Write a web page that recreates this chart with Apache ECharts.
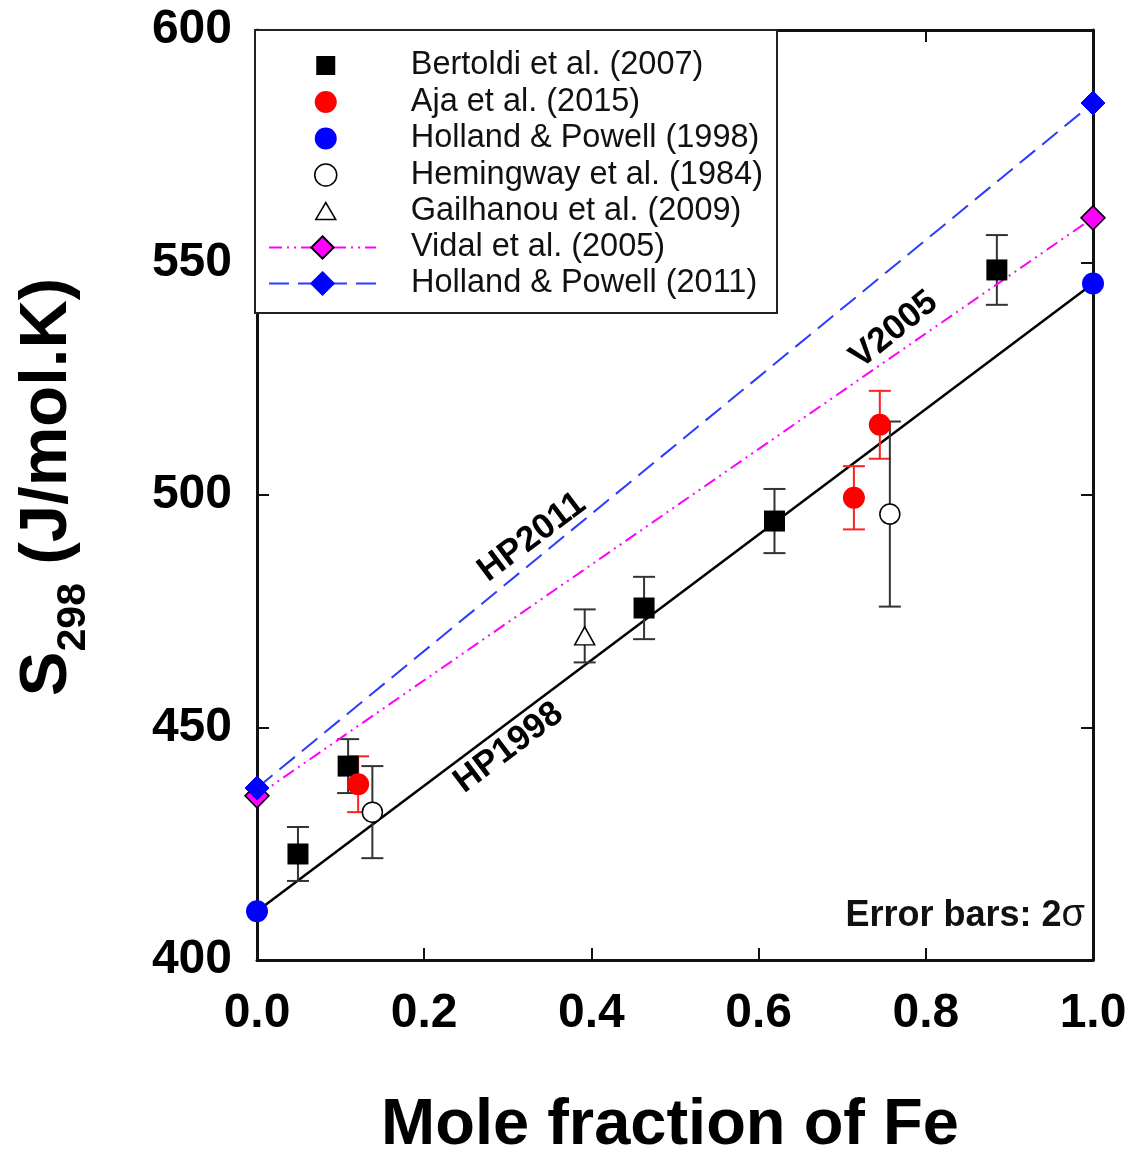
<!DOCTYPE html>
<html>
<head>
<meta charset="utf-8">
<script src="https://cdn.jsdelivr.net/npm/echarts@6.0.0/dist/echarts.min.js"></script>
<style>
  html, body { margin: 0; padding: 0; background: #fff; }
  #chart { width: 1126px; height: 1150px; }
</style>
</head>
<body>
<div id="chart"></div>
<script>
// Measured standard entropies (J/mol.K) versus Fe mole fraction, with 2-sigma uncertainties
const bertoldiX   = [0.049, 0.109, 0.463, 0.619, 0.885];
const bertoldiY   = [422.8, 441.7, 475.7, 494.4, 548.4];
const bertoldiErr = [5.8, 5.8, 6.7, 6.9, 7.5];

const ajaX   = [0.121, 0.714, 0.745];
const ajaY   = [437.8, 499.4, 515.1];
const ajaErr = [6.0, 6.8, 7.3];

const hemingwayX   = [0.138, 0.757];
const hemingwayY   = [431.8, 495.9];
const hemingwayErr = [9.9, 19.9];

const gailhanouX   = [0.392];
const gailhanouY   = [469.7];
const gailhanouErr = [5.7];

// End-member values of the thermodynamic databases (Mg end member at 0, Fe end member at 1)
const endMemberX = [0, 1];
const hp1998Y = [410.5, 545.5];
const vidalY  = [435.3, 559.6];
const hp2011Y = [437.0, 584.3];

// Tags written along the database lines
const curveTags  = ['HP2011', 'V2005', 'HP1998'];
const curveTagX  = [0.329, 0.762, 0.301];
const curveTagY  = [490.9, 535.5, 445.6];

const seriesNames = {
  bertoldi: 'Bertoldi et al. (2007)',
  aja: 'Aja et al. (2015)',
  hp1998: 'Holland & Powell (1998)',
  hemingway: 'Hemingway et al. (1984)',
  gailhanou: 'Gailhanou et al. (2009)',
  vidal: 'Vidal et al. (2005)',
  hp2011: 'Holland & Powell (2011)'
};

const FONT = "'Liberation Sans', Arial, Helvetica, sans-serif";

const pairs = (xs, ys) => xs.map((x, i) => [x, ys[i]]);

function errorBars(id, xs, ys, errs, color) {
  return {
    type: 'custom',
    id: id,
    silent: true,
    z: 2,
    clip: false,
    data: xs.map((x, i) => [x, ys[i] - errs[i], ys[i] + errs[i]]),
    encode: { x: 0, y: [1, 2] },
    renderItem: function (params, api) {
      const lo = api.coord([api.value(0), api.value(1)]);
      const hi = api.coord([api.value(0), api.value(2)]);
      const cap = 11;
      const st = { stroke: color, lineWidth: 2 };
      return {
        type: 'group',
        children: [
          { type: 'line', shape: { x1: lo[0], y1: lo[1], x2: hi[0], y2: hi[1] }, style: st },
          { type: 'line', shape: { x1: lo[0] - cap, y1: lo[1], x2: lo[0] + cap, y2: lo[1] }, style: st },
          { type: 'line', shape: { x1: hi[0] - cap, y1: hi[1], x2: hi[0] + cap, y2: hi[1] }, style: st }
        ]
      };
    }
  };
}

const squareIcon   = 'path://M0,0M22,22M1.5,1.5L20.5,1.5L20.5,20.5L1.5,20.5Z';
const triangleIcon = 'path://M0,0M22,22M11,2L21,19L1,19Z';

const axisLineStyle = { lineStyle: { color: '#111', width: 3 }, onZero: false };
const axisTickStyle = { show: true, inside: true, length: 12, lineStyle: { color: '#111', width: 2 } };

const chart = echarts.init(document.getElementById('chart'), null, { renderer: 'canvas' });

const option = {
  backgroundColor: '#ffffff',
  animation: false,
  textStyle: { fontFamily: FONT },
  grid: { left: 257, right: 33, top: 30, bottom: 190, containLabel: false, outerBoundsMode: 'none' },
  xAxis: [
    {
      type: 'value', position: 'bottom', min: 0, max: 1, interval: 0.2,
      axisLine: axisLineStyle, axisTick: axisTickStyle, splitLine: { show: false },
      axisLabel: {
        margin: 30, color: '#000', fontSize: 48, fontWeight: 'bold', fontFamily: FONT,
        formatter: v => v.toFixed(1)
      },
      name: 'Mole fraction of Fe', nameLocation: 'middle', nameGap: 134,
      nameTextStyle: { color: '#000', fontSize: 65, fontWeight: 'bold', fontFamily: FONT, padding: [0, 10, 0, 0] }
    },
    {
      type: 'value', position: 'top', min: 0, max: 1, interval: 0.2,
      axisLine: axisLineStyle, axisTick: axisTickStyle, splitLine: { show: false },
      axisLabel: { show: false }
    }
  ],
  yAxis: [
    {
      type: 'value', position: 'left', min: 400, max: 600, interval: 50,
      axisLine: axisLineStyle, axisTick: axisTickStyle, splitLine: { show: false },
      axisLabel: { margin: 25, color: '#000', fontSize: 48, fontWeight: 'bold', fontFamily: FONT },
      name: '{s|S}{sub|298}{s| (J/mol.K)}', nameLocation: 'middle', nameRotate: 90, nameGap: 176,
      nameTextStyle: {
        color: '#000', fontFamily: FONT, fontWeight: 'bold', padding: [0, 0, 0, 16],
        rich: {
          s: { fontSize: 67, fontWeight: 'bold', fontFamily: FONT, color: '#000', lineHeight: 67, verticalAlign: 'middle' },
          sub: { fontSize: 41, fontWeight: 'bold', fontFamily: FONT, color: '#000', lineHeight: 41, padding: [52, 0, 0, 0], verticalAlign: 'middle' }
        }
      }
    },
    {
      type: 'value', position: 'right', min: 400, max: 600, interval: 50,
      axisLine: axisLineStyle, axisTick: axisTickStyle, splitLine: { show: false },
      axisLabel: { show: false }
    }
  ],
  legend: [
    {
      orient: 'vertical', left: 314, top: 49, padding: 0,
      itemWidth: 160, itemHeight: 22, itemGap: 3.5, selectedMode: false,
      textStyle: { fontSize: 32.5, color: '#111', fontFamily: FONT },
      data: [
        { name: seriesNames.bertoldi, icon: squareIcon },
        { name: seriesNames.aja, icon: 'circle' },
        { name: seriesNames.hp1998, icon: 'circle' },
        { name: seriesNames.hemingway, icon: 'circle', itemStyle: { color: '#fff', borderColor: '#000', borderWidth: 1.5 } },
        { name: seriesNames.gailhanou, icon: triangleIcon, itemStyle: { color: '#fff', borderColor: '#000', borderWidth: 1.5 } }
      ]
    },
    {
      orient: 'vertical', left: 268, top: 231, padding: 0,
      itemWidth: 107, itemHeight: 28, itemGap: 3, selectedMode: false,
      textStyle: { fontSize: 32.5, color: '#111', fontFamily: FONT, padding: [0, 0, 0, 30] },
      data: [seriesNames.vidal, seriesNames.hp2011]
    }
  ],
  graphic: [
    {
      type: 'rect', z: 1,
      shape: { x: 255, y: 30, width: 522, height: 283 },
      style: { fill: '#fff', stroke: '#222', lineWidth: 2 }
    },
    {
      type: 'text', right: 41, top: 897, z: 5,
      style: {
        text: '{b|Error bars: 2}{g|σ}',
        rich: {
          b: { fontSize: 36, fontWeight: 'bold', fontFamily: FONT, fill: '#111' },
          g: { fontSize: 38, fontWeight: 'normal', fontFamily: FONT, fill: '#111' }
        }
      }
    }
  ],
  series: [
    // Database lines
    {
      type: 'line', id: 'hp1998Line', data: pairs(endMemberX, hp1998Y),
      symbol: 'none', clip: false, z: 1, silent: true,
      lineStyle: { color: '#000', width: 2.5 }
    },
    {
      type: 'line', name: seriesNames.vidal, data: pairs(endMemberX, vidalY),
      symbol: 'diamond', symbolSize: 24, clip: false, z: 3,
      itemStyle: { color: '#ff00ff', borderColor: '#000', borderWidth: 1.5 },
      lineStyle: { color: '#ff00ff', width: 2, type: [13, 5, 2, 5, 2, 5] }
    },
    {
      type: 'line', name: seriesNames.hp2011, data: pairs(endMemberX, hp2011Y),
      symbol: 'diamond', symbolSize: 24, clip: false, z: 3,
      itemStyle: { color: '#0000ff', borderColor: '#0000ff', borderWidth: 1 },
      lineStyle: { color: '#2b3cff', width: 2, type: [20, 9] }
    },
    // Error bars
    errorBars('bertoldiErr', bertoldiX, bertoldiY, bertoldiErr, '#333'),
    errorBars('ajaErr', ajaX, ajaY, ajaErr, '#ff2020'),
    errorBars('hemingwayErr', hemingwayX, hemingwayY, hemingwayErr, '#333'),
    errorBars('gailhanouErr', gailhanouX, gailhanouY, gailhanouErr, '#333'),
    // Measurements
    {
      type: 'scatter', name: seriesNames.bertoldi, data: pairs(bertoldiX, bertoldiY),
      symbol: 'rect', symbolSize: 21, z: 4, clip: false,
      itemStyle: { color: '#000', opacity: 1 }
    },
    {
      type: 'scatter', name: seriesNames.aja, data: pairs(ajaX, ajaY),
      symbol: 'circle', symbolSize: 22, z: 4, clip: false,
      itemStyle: { color: '#ff0000', opacity: 1 }
    },
    {
      type: 'scatter', name: seriesNames.hp1998, data: pairs(endMemberX, hp1998Y),
      symbol: 'circle', symbolSize: 22, z: 4, clip: false,
      itemStyle: { color: '#0000ff', opacity: 1 }
    },
    {
      type: 'scatter', name: seriesNames.hemingway, data: pairs(hemingwayX, hemingwayY),
      symbol: 'circle', symbolSize: 20, z: 5, clip: false,
      itemStyle: { color: '#fff', borderColor: '#000', borderWidth: 1.5, opacity: 1 }
    },
    {
      type: 'scatter', name: seriesNames.gailhanou, data: pairs(gailhanouX, gailhanouY),
      symbol: 'triangle', symbolSize: [20, 18], z: 5, clip: false,
      itemStyle: { color: '#fff', borderColor: '#000', borderWidth: 1.5, opacity: 1 }
    },
    // Line tags
    {
      type: 'scatter', id: 'curveTags', silent: true, z: 6,
      symbolSize: 0, itemStyle: { color: 'rgba(0,0,0,0)' },
      data: curveTags.map((t, i) => ({
        name: t, value: [curveTagX[i], curveTagY[i]],
        label: { rotate: i === 1 ? 39 : 37 }
      })),
      label: {
        show: true, position: 'inside', formatter: '{b}',
        fontSize: 35, fontWeight: 'bold', fontFamily: FONT, color: '#000',
        textBorderWidth: 0, opacity: 1
      }
    }
  ]
};

chart.setOption(option);
</script>
</body>
</html>
